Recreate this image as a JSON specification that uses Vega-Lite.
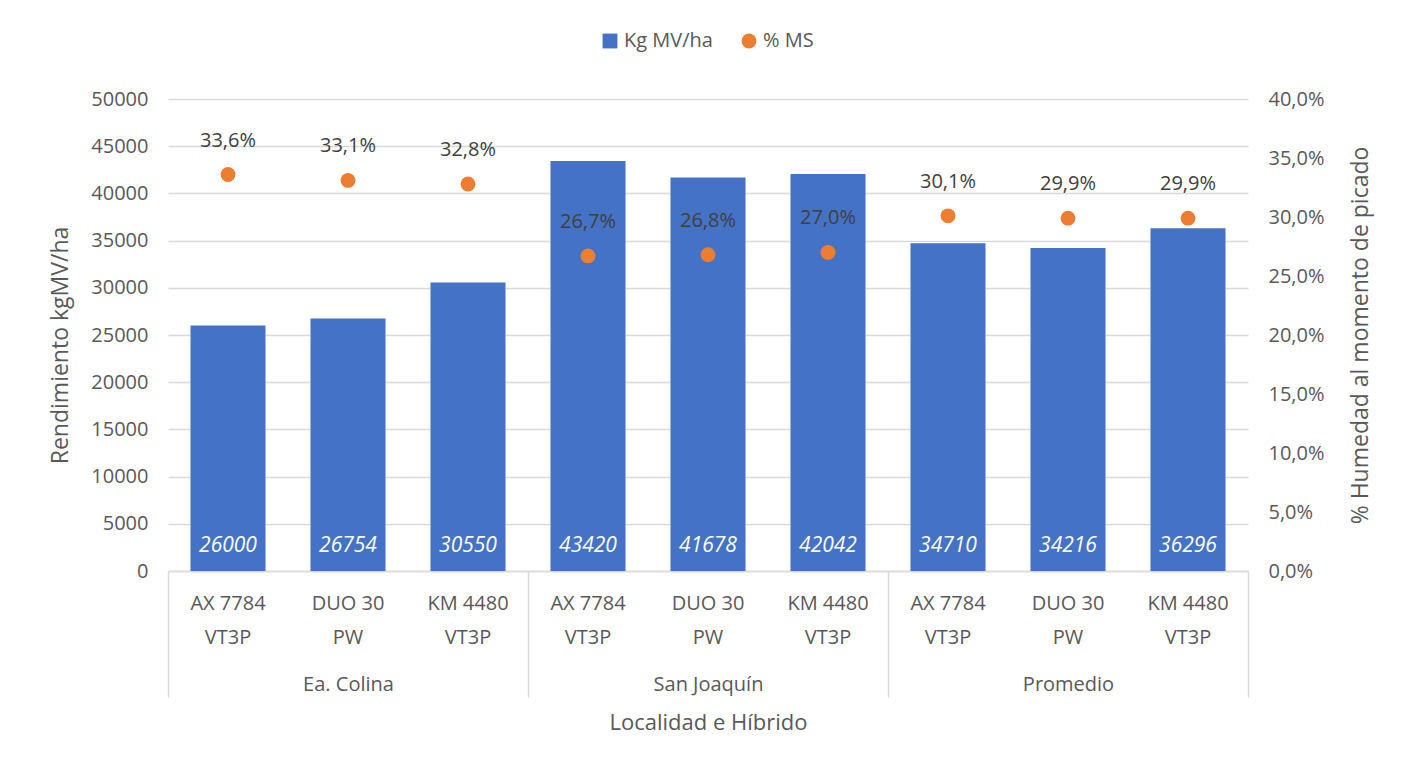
{
  "$schema": "https://vega.github.io/schema/vega-lite/v6.json",
  "width": 1080,
  "height": 472,
  "autosize": {"type": "none"},
  "padding": {"left": 168, "top": 99, "right": 156, "bottom": 198},
  "background": "#ffffff",
  "data": {
    "values": [
      {"grupo": "Ea. Colina", "key": "Ea. Colina|AX 7784|VT3P", "kg": 26000, "ms": 0.336},
      {"grupo": "Ea. Colina", "key": "Ea. Colina|DUO 30|PW", "kg": 26754, "ms": 0.331},
      {"grupo": "Ea. Colina", "key": "Ea. Colina|KM 4480|VT3P", "kg": 30550, "ms": 0.328},
      {"grupo": "San Joaquín", "key": "San Joaquín|AX 7784|VT3P", "kg": 43420, "ms": 0.267},
      {"grupo": "San Joaquín", "key": "San Joaquín|DUO 30|PW", "kg": 41678, "ms": 0.268},
      {"grupo": "San Joaquín", "key": "San Joaquín|KM 4480|VT3P", "kg": 42042, "ms": 0.270},
      {"grupo": "Promedio", "key": "Promedio|AX 7784|VT3P", "kg": 34710, "ms": 0.301},
      {"grupo": "Promedio", "key": "Promedio|DUO 30|PW", "kg": 34216, "ms": 0.299},
      {"grupo": "Promedio", "key": "Promedio|KM 4480|VT3P", "kg": 36296, "ms": 0.299}
    ]
  },
  "layer": [
    {
      "encoding": {
        "x": {
          "field": "key", "type": "nominal", "sort": null,
          "scale": {"paddingInner": 0, "paddingOuter": 0},
          "axis": {
            "orient": "bottom", "title": null,
            "labelExpr": "slice(split(datum.value,'|'),1)",
            "labelAngle": 0, "ticks": false, "domain": true,
            "domainColor": "#d9d9d9", "domainWidth": 1.5,
            "labelPadding": 22, "labelLineHeight": 34, "labelBaseline": "top",
            "labelFontSize": 20, "labelColor": "#595959"
          }
        },
        "y": {
          "field": "kg", "type": "quantitative",
          "scale": {"domain": [0, 50000], "nice": false},
          "axis": {
            "orient": "left", "title": "Rendimiento kgMV/ha",
            "values": [0, 5000, 10000, 15000, 20000, 25000, 30000, 35000, 40000, 45000, 50000],
            "format": "d", "grid": true, "gridColor": "#d9d9d9", "gridWidth": 1.5,
            "ticks": false, "domain": false, "labelPadding": 20,
            "labelFontSize": 20, "labelColor": "#595959",
            "titleFontSize": 23, "titleColor": "#595959", "titleFontWeight": "normal",
            "titleX": -108, "titleY": 246, "titleAngle": 270, "titleAlign": "center", "titleBaseline": "middle"
          }
        }
      },
      "layer": [
        {
          "mark": {"type": "bar", "width": {"band": 0.625}},
          "encoding": {
            "color": {
              "datum": "Kg MV/ha",
              "scale": {"domain": ["Kg MV/ha", "% MS"], "range": ["#4472C4", "#ED7D31"]},
              "legend": {
                "title": null, "orient": "none", "legendX": 432, "legendY": -68,
                "direction": "horizontal", "labelFontSize": 20, "labelColor": "#595959",
                "symbolSize": 220, "columnPadding": 26, "symbolOpacity": 1,
                "encode": {"symbols": {"update": {"shape": {"signal": "datum.value == 'Kg MV/ha' ? 'square' : 'circle'"}}}}
              }
            }
          }
        },
        {
          "mark": {"type": "text", "color": "#ffffff", "fontStyle": "italic", "fontSize": 21, "baseline": "middle", "dy": -25},
          "encoding": {
            "y": {"datum": 0},
            "text": {"field": "kg", "type": "quantitative", "format": "d"}
          }
        }
      ]
    },
    {
      "encoding": {
        "x": {
          "field": "key", "type": "nominal", "sort": null,
          "scale": {"paddingInner": 0, "paddingOuter": 0},
          "axis": null
        },
        "y": {
          "field": "ms", "type": "quantitative",
          "scale": {"domain": [0, 0.4], "nice": false},
          "axis": {
            "orient": "right", "title": "% Humedad al momento de picado",
            "values": [0, 0.05, 0.1, 0.15, 0.2, 0.25, 0.3, 0.35, 0.4],
            "format": ".1%", "grid": false, "ticks": false, "domain": false, "labelPadding": 20,
            "labelFontSize": 20, "labelColor": "#595959",
            "titleFontSize": 23, "titleColor": "#595959", "titleFontWeight": "normal",
            "titleX": 112, "titleY": 236, "titleAngle": 270, "titleAlign": "center", "titleBaseline": "middle"
          }
        }
      },
      "layer": [
        {
          "mark": {"type": "point", "filled": true, "opacity": 1, "size": 220},
          "encoding": {"color": {"datum": "% MS"}}
        },
        {
          "mark": {"type": "text", "color": "#404040", "fontSize": 20, "baseline": "middle", "dy": -34},
          "encoding": {
            "text": {"field": "ms", "type": "quantitative", "format": ".1%"}
          }
        }
      ]
    },
    {
      "mark": {"type": "point", "opacity": 0},
      "encoding": {
        "x": {
          "field": "grupo", "type": "nominal", "sort": null,
          "scale": {"paddingInner": 0, "paddingOuter": 0},
          "axis": {
            "orient": "bottom", "title": "Localidad e Híbrido",
            "labelAngle": 0, "tickBand": "extent", "ticks": true, "tickSize": 126,
            "tickColor": "#d9d9d9", "tickWidth": 1.5, "domain": false,
            "labelPadding": -23, "labelBaseline": "top",
            "labelFontSize": 20, "labelColor": "#595959",
            "titleFontSize": 22, "titleColor": "#595959", "titleFontWeight": "normal",
            "titleY": 151, "titleBaseline": "middle"
          }
        }
      }
    }
  ],
  "resolve": {
    "scale": {"x": "independent", "y": "independent"},
    "axis": {"x": "independent", "y": "independent"}
  },
  "config": {
    "font": "Open Sans",
    "view": {"stroke": null},
    "locale": {
      "number": {"decimal": ",", "thousands": ".", "grouping": [3], "currency": ["$", ""]}
    }
  }
}
